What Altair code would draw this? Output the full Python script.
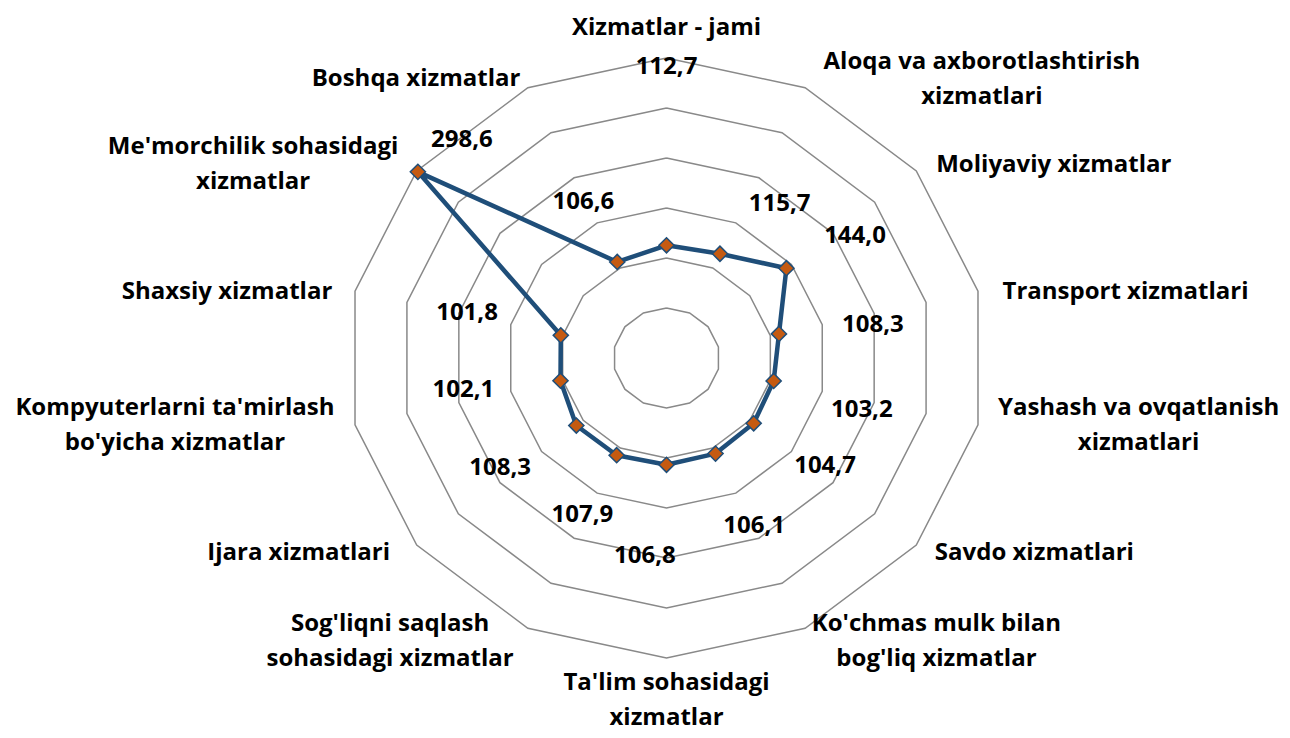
import math
import altair as alt
import pandas as pd

# ---- data ----
categories = [
    "Xizmatlar - jami",
    "Aloqa va axborotlashtirish\nxizmatlari",
    "Moliyaviy xizmatlar",
    "Transport xizmatlari",
    "Yashash va ovqatlanish\nxizmatlari",
    "Savdo xizmatlari",
    "Ko'chmas mulk bilan\nbog'liq xizmatlar",
    "Ta'lim sohasidagi\nxizmatlar",
    "Sog'liqni saqlash\nsohasidagi xizmatlar",
    "Ijara xizmatlari",
    "Kompyuterlarni ta'mirlash\nbo'yicha xizmatlar",
    "Shaxsiy xizmatlar",
    "Me'morchilik sohasidagi\nxizmatlar",
    "Boshqa xizmatlar",
]
values = [112.7, 115.7, 144.0, 108.3, 103.2, 104.7, 106.1,
          106.8, 107.9, 108.3, 102.1, 101.8, 298.6, 106.6]
ring_levels = [50, 100, 150, 200, 250, 300]

# ---- layout settings (label placement, in data units / degrees) ----
label_radius = [293, 189, 216, 197, 190, 183, 185, 197, 174, 190, 193, 193, 292, 176]
label_turn = [0, 8.5, 3.6, 2.6, 2.3, -3.0, -0.7, 5.9, 1.3, 3.9, 4.0, 1.1, 10.3, -0.6]

R_MAX = 300
W, H = 639, 600
SX = W / (2 * R_MAX)
N = len(categories)
FONT = "Open Sans"
FS = 24
LINE_H = 35
CHAR_W = 13
GAP = 18

LINE_COLOR = "#1F4E79"
MARK_FILL = "#C55A11"
GRID_COLOR = "#898989"


def ang(i):
    return math.radians(i * 360.0 / N)


# grid rings
ring_rows = []
for lvl in ring_levels:
    for k in range(N + 1):
        t = ang(k % N)
        ring_rows.append({"ring": lvl, "k": k,
                          "x": lvl * math.sin(t), "y": lvl * math.cos(t)})
rings_df = pd.DataFrame(ring_rows)

# series
ser_rows = []
for k in range(N + 1):
    i = k % N
    t = ang(i)
    ser_rows.append({"k": k, "cat": categories[i].replace("\n", " "), "v": values[i],
                     "x": values[i] * math.sin(t), "y": values[i] * math.cos(t)})
ser_df = pd.DataFrame(ser_rows)
pts_df = ser_df.iloc[:N]

# value labels
vl_rows = []
for i, v in enumerate(values):
    t = math.radians(i * 360.0 / N + label_turn[i])
    vl_rows.append({"txt": f"{v:.1f}".replace(".", ","),
                    "x": label_radius[i] * math.sin(t),
                    "y": label_radius[i] * math.cos(t)})
vl_df = pd.DataFrame(vl_rows)

# category labels placed outside the outer ring (Excel-like placement)
cl_rows = []
for i, cat in enumerate(categories):
    t = ang(i)
    s, c = math.sin(t), math.cos(t)
    lines = cat.split("\n")
    w = max(len(l) for l in lines) * CHAR_W
    h = len(lines) * LINE_H
    ax = R_MAX * s * SX + GAP * s
    ay = R_MAX * c + GAP * c
    if abs(s) < 0.1:
        cx, cy = ax, ay + (h / 2 if c > 0 else -h / 2)
    else:
        cx, cy = ax + math.copysign(w / 2, s), ay
    if c >= 0:
        cy -= 5
        if c > 0.8 and abs(s) > 0.1:
            cy -= 3
    elif abs(s) > 0.1:
        cy += 3
    else:
        cy += 11  # keep the bottom label inside the page
    first_y = cy + (len(lines) - 1) / 2 * LINE_H
    cl_rows.append({"txt": cat, "x": cx / SX, "y": first_y})
cl_df = pd.DataFrame(cl_rows)

xs = alt.Scale(domain=[-R_MAX, R_MAX], nice=False, zero=False)
ys = alt.Scale(domain=[-R_MAX, R_MAX], nice=False, zero=False)
X = alt.X("x:Q", scale=xs, axis=None)
Y = alt.Y("y:Q", scale=ys, axis=None)

grid = alt.Chart(rings_df).mark_line(color=GRID_COLOR, strokeWidth=1.5).encode(
    x=X, y=Y, detail="ring:N", order="k:Q")

line = alt.Chart(ser_df).mark_line(color=LINE_COLOR, strokeWidth=4.5,
                                   strokeJoin="round").encode(
    x=X, y=Y, order="k:Q")

points = alt.Chart(pts_df).mark_point(shape="diamond", filled=True, fill=MARK_FILL,
                                      stroke=LINE_COLOR, strokeWidth=1.5,
                                      size=230, opacity=1).encode(
    x=X, y=Y, tooltip=["cat:N", "v:Q"])

vlabels = alt.Chart(vl_df).mark_text(font=FONT, fontSize=FS, fontWeight="bold",
                                     color="#000000", align="center",
                                     baseline="middle", dy=2).encode(
    x=X, y=Y, text="txt:N")

clabels = alt.Chart(cl_df).mark_text(font=FONT, fontSize=FS, fontWeight="bold",
                                     color="#000000", align="center",
                                     baseline="middle", lineBreak="\n",
                                     lineHeight=LINE_H).encode(
    x=X, y=Y, text="txt:N")

chart = alt.layer(grid, line, points, vlabels, clabels).properties(
    width=W, height=H,
    autosize=alt.AutoSizeParams(type="none"),
    padding={"left": 339, "top": 50, "right": 296, "bottom": 72},
).configure_view(stroke=None)

chart.save("out.html", embed_options={"renderer": "svg", "actions": False})
